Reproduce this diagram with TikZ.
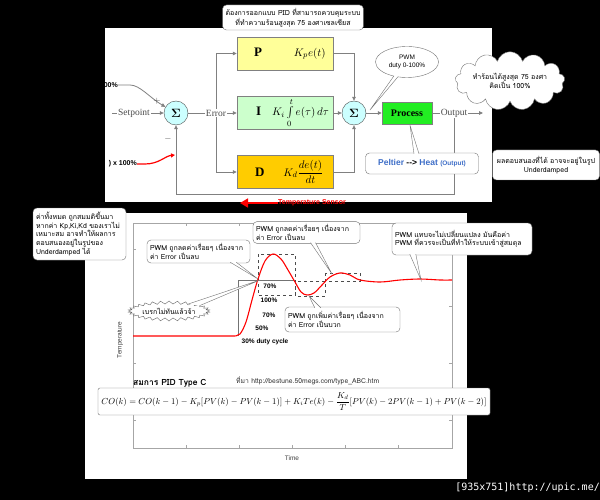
\documentclass[tikz,border=0pt]{standalone}
\usepackage{fontspec}
\usepackage{amsmath}
\usepackage{graphicx}
\usepackage{xcolor}
\usetikzlibrary{shapes.geometric,shapes.callouts,shapes.symbols,arrows.meta,positioning,calc}
\newfontfamily\thfont[Script=Thai]{Loma}
\newfontfamily\arialfnt{Liberation Sans}
\newfontfamily\tnrfnt{Liberation Serif}
\newfontfamily\monofnt{DejaVu Sans Mono}
\definecolor{pfill}{HTML}{FFFF99}
\definecolor{ifill}{HTML}{CCFFCC}
\definecolor{dfill}{HTML}{FFCC00}
\definecolor{sumfill}{HTML}{CCFFFF}
\definecolor{procfill}{HTML}{22EE22}
\definecolor{wirecol}{HTML}{808080}
\definecolor{peltblue}{HTML}{3F6FC8}
\pgfdeclarelayer{back}
\pgfsetlayers{back,main}
\tikzset{
  pidbox/.style  ={rectangle, draw=wirecol, thin, minimum width=96pt, minimum height=33pt,
                   inner sep=0pt},
  sumnode/.style ={circle, draw=black!70, fill=sumfill, minimum size=24pt, inner sep=0pt},
  siglbl/.style  ={font=\tnrfnt\fontsize{9.5}{10}\selectfont, text=black!70, fill=white, inner sep=1pt},
  flow/.style    ={-{Triangle[length=4pt,width=3.6pt]}, draw=wirecol, thick},
  note/.style    ={rectangle, rounded corners=4pt, draw=black!55, fill=white, align=left,
                   inner sep=3pt, font=\thfont\fontsize{7}{8.6}\selectfont},
  tail/.style    ={draw=black!55, fill=white},
  pctlbl/.style  ={font=\arialfnt\bfseries\fontsize{6.5}{7}\selectfont, inner sep=0pt},
  zoombox/.style ={draw=black!70, dashed, thin}
}
\newcommand{\pidl}[1]{{\tnrfnt\bfseries\fontsize{13}{13}\selectfont #1}}
\newcommand{\pidrow}[1]{\makebox[92pt][l]{#1}}

\begin{document}
\begin{tikzpicture}[x=1pt,y=-1pt]
  \useasboundingbox (0,0) rectangle (600,500);
  \begin{pgfonlayer}{back}
    \fill[black] (0,0) rectangle (600,500);
    \fill[white] (105,28) rectangle (492,202);
    \fill[white] (85,213) rectangle (467,479);
  \end{pgfonlayer}

  % --- PID block diagram ---
  \node[sumnode] (s1) at (176,113) {\fontsize{13}{13}\selectfont$\boldsymbol{\Sigma}$};
  \node[sumnode] (s2) at (354,113) {\fontsize{13}{13}\selectfont$\boldsymbol{\Sigma}$};
  \node[pidbox, fill=pfill] (P) at (285,53.5)
    {\pidrow{\hspace*{15pt}\pidl{P}\hspace{32pt}\fontsize{11}{11}\selectfont$K_p e(t)$}};
  \node[pidbox, fill=ifill] (I) at (285,113)
    {\pidrow{\hspace*{17pt}\pidl{I}\hspace{11pt}\fontsize{11}{11}\selectfont$K_i\int\limits_0^t e(\tau)\,d\tau$}};
  \node[pidbox, fill=dfill] (D) at (285,172)
    {\pidrow{\hspace*{16pt}\pidl{D}\hspace{19pt}\fontsize{11}{11}\selectfont$K_d\dfrac{de(t)}{dt}$}};
  \node[rectangle, draw=wirecol, fill=procfill, minimum width=50pt, minimum height=22pt,
        inner sep=0pt, font=\tnrfnt\bfseries\fontsize{10}{10}\selectfont] (proc) at (407,113) {Process};
  \node[siglbl] (setp) at (134,113) {Setpoint};
  \node[siglbl] (err)  at (216,113) {Error};
  \node[siglbl] (out)  at (454,113) {Output};
  \coordinate (spin) at (112,113);
  \coordinate (outend) at (483,113);
  \coordinate (fb) at (176,194);
  \node[font=\fontsize{9}{9}\selectfont, text=black!70] (plus) at (157,101) {$+$};
  \node[font=\fontsize{9}{9}\selectfont, text=black!70] (minus) at (168,139) {$-$};
  \node[pctlbl, anchor=east, font=\arialfnt\bfseries\fontsize{7}{7}\selectfont] (pcta) at (118,85) {00\%};
  \node[pctlbl, anchor=east, font=\arialfnt\bfseries\fontsize{7}{7}\selectfont] (pctb) at (137,164) {) x 100\%};
  \coordinate (redtip) at (175,155);

  \begin{pgfonlayer}{back}
    \draw[wirecol, thick] (spin) -- (setp.west);
    \draw[flow] (setp.east) -- (s1.west);
    \draw[flow] (s1.east) -- (I.west);
    \draw[flow] (err.center) |- (P.west);
    \draw[flow] (err.center) |- (D.west);
    \draw[flow] (P.east) -| (s2.north);
    \draw[flow] (I.east) -- (s2.west);
    \draw[flow] (D.east) -| (s2.south);
    \draw[flow] (s2.east) -- (proc.west);
    \draw[wirecol, thick] (proc.east) -- (out.west);
    \draw[flow] (out.east) -- (outend);
    \draw[flow] (out.south) |- (fb) -- (s1.south);
    \draw[flow] (pcta.east) -- ++(12,0) .. controls +(10,0) and (150,98) .. (s1.150);
  \end{pgfonlayer}
  \draw[red, line width=1.2pt, -{Triangle[length=4pt,width=4pt]}]
    (pctb.east) -- ++(8,0) .. controls +(14,0) and (165,156) .. (redtip);

  % --- notes round the block diagram ---
  \node[note, align=center] (goal) at (293,17.5)
    {ต้องการออกแบบ PID ที่สามารถควบคุมระบบ\\ที่ทำความร้อนสูงสุด 75 องศาเซลเซียส};
  \coordinate (pwmtip) at (370,110);
  \node[ellipse callout, draw=black!55, fill=white, minimum width=63pt, minimum height=31pt,
        inner sep=0pt, align=center, callout absolute pointer={(pwmtip)}, callout pointer arc=8,
        font=\arialfnt\fontsize{6.5}{8}\selectfont] (pwm) at (407,62) {PWM\\duty 0-100\%};
  \node[cloud, cloud puffs=13, aspect=2.6, draw=black!55, fill=white, minimum width=100pt,
        minimum height=40pt, inner sep=0pt, align=center,
        font=\thfont\fontsize{7}{8.6}\selectfont] (heat) at (510,81)
    {ทำร้อนได้สูงสุด 75 องศา\\คิดเป็น 100\%};
  \node[note, minimum width=113pt, minimum height=21pt, align=center,
        font=\arialfnt\bfseries\fontsize{8.5}{9}\selectfont] (pelt) at (422,163.5)
    {\textcolor{peltblue}{Peltier} --> \textcolor{peltblue}{Heat {\fontsize{6.5}{7}\selectfont(Output)}}};
  \filldraw[tail] ($(pelt.north)+(-8,1)$) -- ($(proc.south)+(3,1)$) -- ($(pelt.north)+(-3,1)$);
  \node[note, minimum width=107pt, minimum height=30pt, align=center] (resp) at (546,165)
    {ผลตอบสนองที่ได้ อาจจะอยู่ในรูป\\Underdamped};
  \node[font=\arialfnt\bfseries\fontsize{7}{7}\selectfont, text=red, inner sep=0pt] (tsens) at (312,203)
    {Temperature Sensor};
  \coordinate (tsarrow) at (240,203);
  \draw[red, line width=1.5pt, -{Triangle[length=8pt,width=9pt]}] (tsens.west) -- (tsarrow);

  % --- step response ---
  \draw[black!35] (133,223) rectangle (452,448);
  \foreach \tx in {186,239,292,345,398} {
    \draw[black!35] (\tx,448) -- (\tx,445);
    \draw[black!35] (\tx,223) -- (\tx,226);
  }
  \foreach \ty in {249,306,363,420} {
    \draw[black!35] (133,\ty) -- (136,\ty);
    \draw[black!35] (452,\ty) -- (449,\ty);
  }
  \node[font=\arialfnt\fontsize{6.5}{7}\selectfont, text=black!75, rotate=90] (ylab) at (120,340) {Temperature};
  \node[font=\arialfnt\fontsize{6.5}{7}\selectfont, text=black!75] (xlab) at (292,458) {Time};
  \draw[black!55] (238,336) -- (238,280) -- (294,280);
  \draw[zoombox] (258,254) rectangle (295,295);
  \draw[zoombox] (295,281) rectangle (325,296);
  \draw[zoombox] (325,273) rectangle (360,281);
  \draw[red, line width=1.1pt] (133,336) -- (234,336)
    plot[smooth, tension=0.55] coordinates {(234,336) (240,334) (246,322) (252,300) (258,279)
      (265,261) (273,254) (281,259) (288,270) (295,282) (301,292) (307,295) (314,293)
      (322,285) (330,277) (340,273) (350,275) (360,280) (380,282) (400,280) (420,279)
      (440,280) (452,280)};
  \node[pctlbl] (p70a)  at (270,286) {70\%};
  \node[pctlbl] (p100)  at (269,300) {100\%};
  \node[pctlbl] (p70b)  at (269,315) {70\%};
  \node[pctlbl] (p50)   at (262,328) {50\%};
  \node[pctlbl] (p30)   at (265,342) {30\% duty cycle};

  % --- notes on the response ---
  \coordinate (tipA) at (258,279);
  \coordinate (tipB) at (332,274);
  \coordinate (tipC) at (309,296);
  \coordinate (tipD) at (421,280);
  \coordinate (tipE) at (260,280);
  \node[note, minimum width=103pt, minimum height=23pt, text width=97pt] (downA) at (198.5,251.5)
    {PWM ถูกลดค่าเรื่อยๆ เนื่องจาก\\ค่า Error เป็นลบ};
  \filldraw[tail] ($(downA.south east)+(-20,-1)$) -- (tipA) -- ($(downA.south east)+(-14,-1)$);
  \node[note, minimum width=107pt, minimum height=20pt, text width=101pt] (downB) at (306.5,232.5)
    {PWM ถูกลดค่าเรื่อยๆ เนื่องจาก\\ค่า Error เป็นลบ};
  \filldraw[tail] ($(downB.south)+(4,-1)$) -- (tipB) -- ($(downB.south)+(9,-1)$);
  \node[note, minimum width=115pt, minimum height=25pt, text width=109pt] (upC) at (342.5,319.5)
    {PWM ถูกเพิ่มค่าเรื่อยๆ เนื่องจาก\\ค่า Error เป็นบวก};
  \filldraw[tail] ($(upC.north west)+(30,1)$) -- (tipC) -- ($(upC.north west)+(36,1)$);
  \node[note, minimum width=140pt, minimum height=32pt, text width=134pt] (flatD) at (462,239)
    {PWM แทบจะไม่เปลี่ยนแปลง มันคือค่า\\PWM ที่ควรจะเป็นที่ทำให้ระบบเข้าสู่สมดุล};
  \filldraw[tail] ($(flatD.south west)+(18,-1)$) -- (tipD) -- ($(flatD.south west)+(24,-1)$);
  \node[starburst, starburst points=30, starburst point height=3pt, random starburst=0,
        draw=black!60, fill=white, minimum width=82pt, minimum height=20pt, inner sep=0pt,
        font=\thfont\fontsize{7}{8}\selectfont] (brake) at (169,311) {เบรกไม่ทันแล้วจ้า};
  \filldraw[tail] (brake.20) -- (tipE) -- (brake.10);
  \node[note, minimum width=93pt, minimum height=52pt, text width=87pt] (allval) at (79.5,234)
    {ค่าทั้งหมด ถูกสมมติขึ้นมา\\หากค่า Kp,Ki,Kd ของเราไม่\\เหมาะสม อาจทำให้ผลการ\\ตอบสนองอยู่ในรูปของ\\Underdamped ได้};

  % --- equation ---
  \node[anchor=west, inner sep=0pt, font=\thfont\bfseries\fontsize{8.5}{9}\selectfont] (eqtitle) at (133,383)
    {สมการ PID Type C};
  \node[anchor=west, inner sep=0pt, font=\thfont\fontsize{6.8}{7}\selectfont, text=black!80] (eqsrc) at (236,381)
    {ที่มา http://bestune.50megs.com/type\_ABC.htm};
  \node[rectangle, rounded corners=2pt, draw=black!55, fill=white, minimum width=392pt,
        minimum height=27pt, inner sep=0pt] (eqn) at (294,401.5)
    {\resizebox{385pt}{!}{$CO(k)=CO(k-1)-K_p[PV(k)-PV(k-1)]+K_iTe(k)-\dfrac{K_d}{T}[PV(k)-2PV(k-1)+PV(k-2)]$}};

  \node[anchor=east, inner sep=0pt, text=white, font=\monofnt\fontsize{10}{10}\selectfont] (upic) at (600,488)
    {[935x751]http://upic.me/};
\end{tikzpicture}
\end{document}
